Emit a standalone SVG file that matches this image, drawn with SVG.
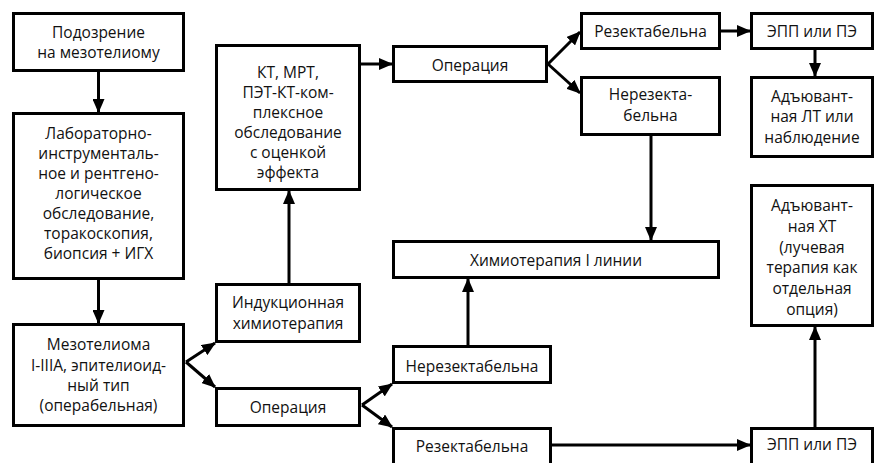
<svg xmlns="http://www.w3.org/2000/svg" width="876" height="463" viewBox="0 0 876 463">
<defs>
<style>
.b{fill:#fff;stroke:#000;stroke-width:3}
.t{font-family:"Open Sans","Noto Sans","DejaVu Sans",sans-serif;font-size:15.5px;fill:#111;text-anchor:middle}
.c{stroke:#000;stroke-width:3;fill:none;marker-end:url(#a)}
</style>
<marker id="a" markerUnits="userSpaceOnUse" markerWidth="14" markerHeight="12" refX="13" refY="6" orient="auto">
<path d="M0,0 L14,6 L0,12 z" fill="#000"/>
</marker>
</defs>
<rect width="876" height="463" fill="#fff"/>
<g id="connectors">
<line class="c" x1="98.5" y1="72" x2="98.5" y2="112"/>
<line class="c" x1="98.5" y1="280" x2="98.5" y2="323"/>
<line class="c" x1="186" y1="362" x2="215" y2="343"/>
<line class="c" x1="186" y1="362" x2="215" y2="387"/>
<line class="c" x1="289" y1="283" x2="289" y2="191"/>
<line class="c" x1="361" y1="64" x2="392" y2="64"/>
<line class="c" x1="548" y1="64" x2="580" y2="32"/>
<line class="c" x1="548" y1="64" x2="580" y2="93"/>
<line class="c" x1="721" y1="31" x2="750" y2="31"/>
<line class="c" x1="815" y1="49" x2="815" y2="76"/>
<line class="c" x1="651" y1="136" x2="651" y2="240"/>
<line class="c" x1="362" y1="405" x2="392" y2="384"/>
<line class="c" x1="362" y1="405" x2="392" y2="427"/>
<line class="c" x1="468" y1="345" x2="468" y2="279"/>
<line class="c" x1="552" y1="445" x2="750" y2="445"/>
<line class="c" x1="815" y1="427" x2="815" y2="327"/>
</g>
<g id="n1"><rect class="b" x="13.5" y="13.5" width="170" height="57"/>
<text class="t" x="98.5" y="38">Подозрение</text><text class="t" x="98.5" y="58">на мезотелиому</text></g>
<g id="n2"><rect class="b" x="13.5" y="113.5" width="170" height="165"/>
<text class="t" x="98.5" y="139">Лабораторно-</text>
<text class="t" x="98.5" y="159">инструменталь-</text>
<text class="t" x="98.5" y="179">ное и рентгено-</text>
<text class="t" x="98.5" y="199">логическое</text>
<text class="t" x="98.5" y="219">обследование,</text>
<text class="t" x="98.5" y="239">торакоскопия,</text>
<text class="t" x="98.5" y="259">биопсия + ИГХ</text></g>
<g id="n3"><rect class="b" x="13.5" y="324.5" width="170" height="101"/>
<text class="t" x="98.5" y="350">Мезотелиома</text>
<text class="t" x="98.5" y="371">I-IIIA, эпителиоид-</text>
<text class="t" x="98.5" y="391">ный тип</text>
<text class="t" x="98.5" y="411">(операбельная)</text></g>
<g id="n4"><rect class="b" x="216.5" y="45.5" width="143" height="144"/>
<text class="t" x="288" y="78">КТ, МРТ,</text>
<text class="t" x="288" y="98">ПЭТ-КТ-ком-</text>
<text class="t" x="288" y="118">плексное</text>
<text class="t" x="288" y="138">обследование</text>
<text class="t" x="288" y="158">с оценкой</text>
<text class="t" x="288" y="178">эффекта</text></g>
<g id="n5"><rect class="b" x="216.5" y="284.5" width="143" height="57"/>
<text class="t" x="288" y="308">Индукционная</text>
<text class="t" x="288" y="329">химиотерапия</text></g>
<g id="n6"><rect class="b" x="216.5" y="388.5" width="143" height="37"/>
<text class="t" x="288" y="413">Операция</text></g>
<g id="n7"><rect class="b" x="393.5" y="46.5" width="153" height="35"/>
<text class="t" x="470" y="71">Операция</text></g>
<g id="n8"><rect class="b" x="581.5" y="13.5" width="138" height="35"/>
<text class="t" x="650.5" y="37">Резектабельна</text></g>
<g id="n9"><rect class="b" x="581.5" y="77.5" width="138" height="57"/>
<text class="t" x="650.5" y="100">Нерезекта-</text>
<text class="t" x="650.5" y="121">бельна</text></g>
<g id="n10"><rect class="b" x="751.5" y="13.5" width="121" height="35"/>
<text class="t" x="812" y="37">ЭПП или ПЭ</text></g>
<g id="n11"><rect class="b" x="751.5" y="77.5" width="121" height="79"/>
<text class="t" x="812" y="102">Адъювант-</text>
<text class="t" x="812" y="122">ная ЛТ или</text>
<text class="t" x="812" y="143">наблюдение</text></g>
<g id="n12"><rect class="b" x="393.5" y="241.5" width="325" height="36"/>
<text class="t" x="556" y="266">Химиотерапия I линии</text></g>
<g id="n13"><rect class="b" x="393.5" y="346.5" width="157" height="36"/>
<text class="t" x="472" y="372">Нерезектабельна</text></g>
<g id="n14"><rect class="b" x="393.5" y="428.5" width="157" height="45"/>
<text class="t" x="472" y="452">Резектабельна</text></g>
<g id="n15"><rect class="b" x="751.5" y="185.5" width="121" height="140"/>
<text class="t" x="812" y="211">Адъювант-</text>
<text class="t" x="812" y="232">ная ХТ</text>
<text class="t" x="812" y="253">(лучевая</text>
<text class="t" x="812" y="273">терапия как</text>
<text class="t" x="812" y="294">отдельная</text>
<text class="t" x="812" y="315">опция)</text></g>
<g id="n16"><rect class="b" x="751.5" y="428.5" width="121" height="45"/>
<text class="t" x="812" y="450">ЭПП или ПЭ</text></g>
</svg>
